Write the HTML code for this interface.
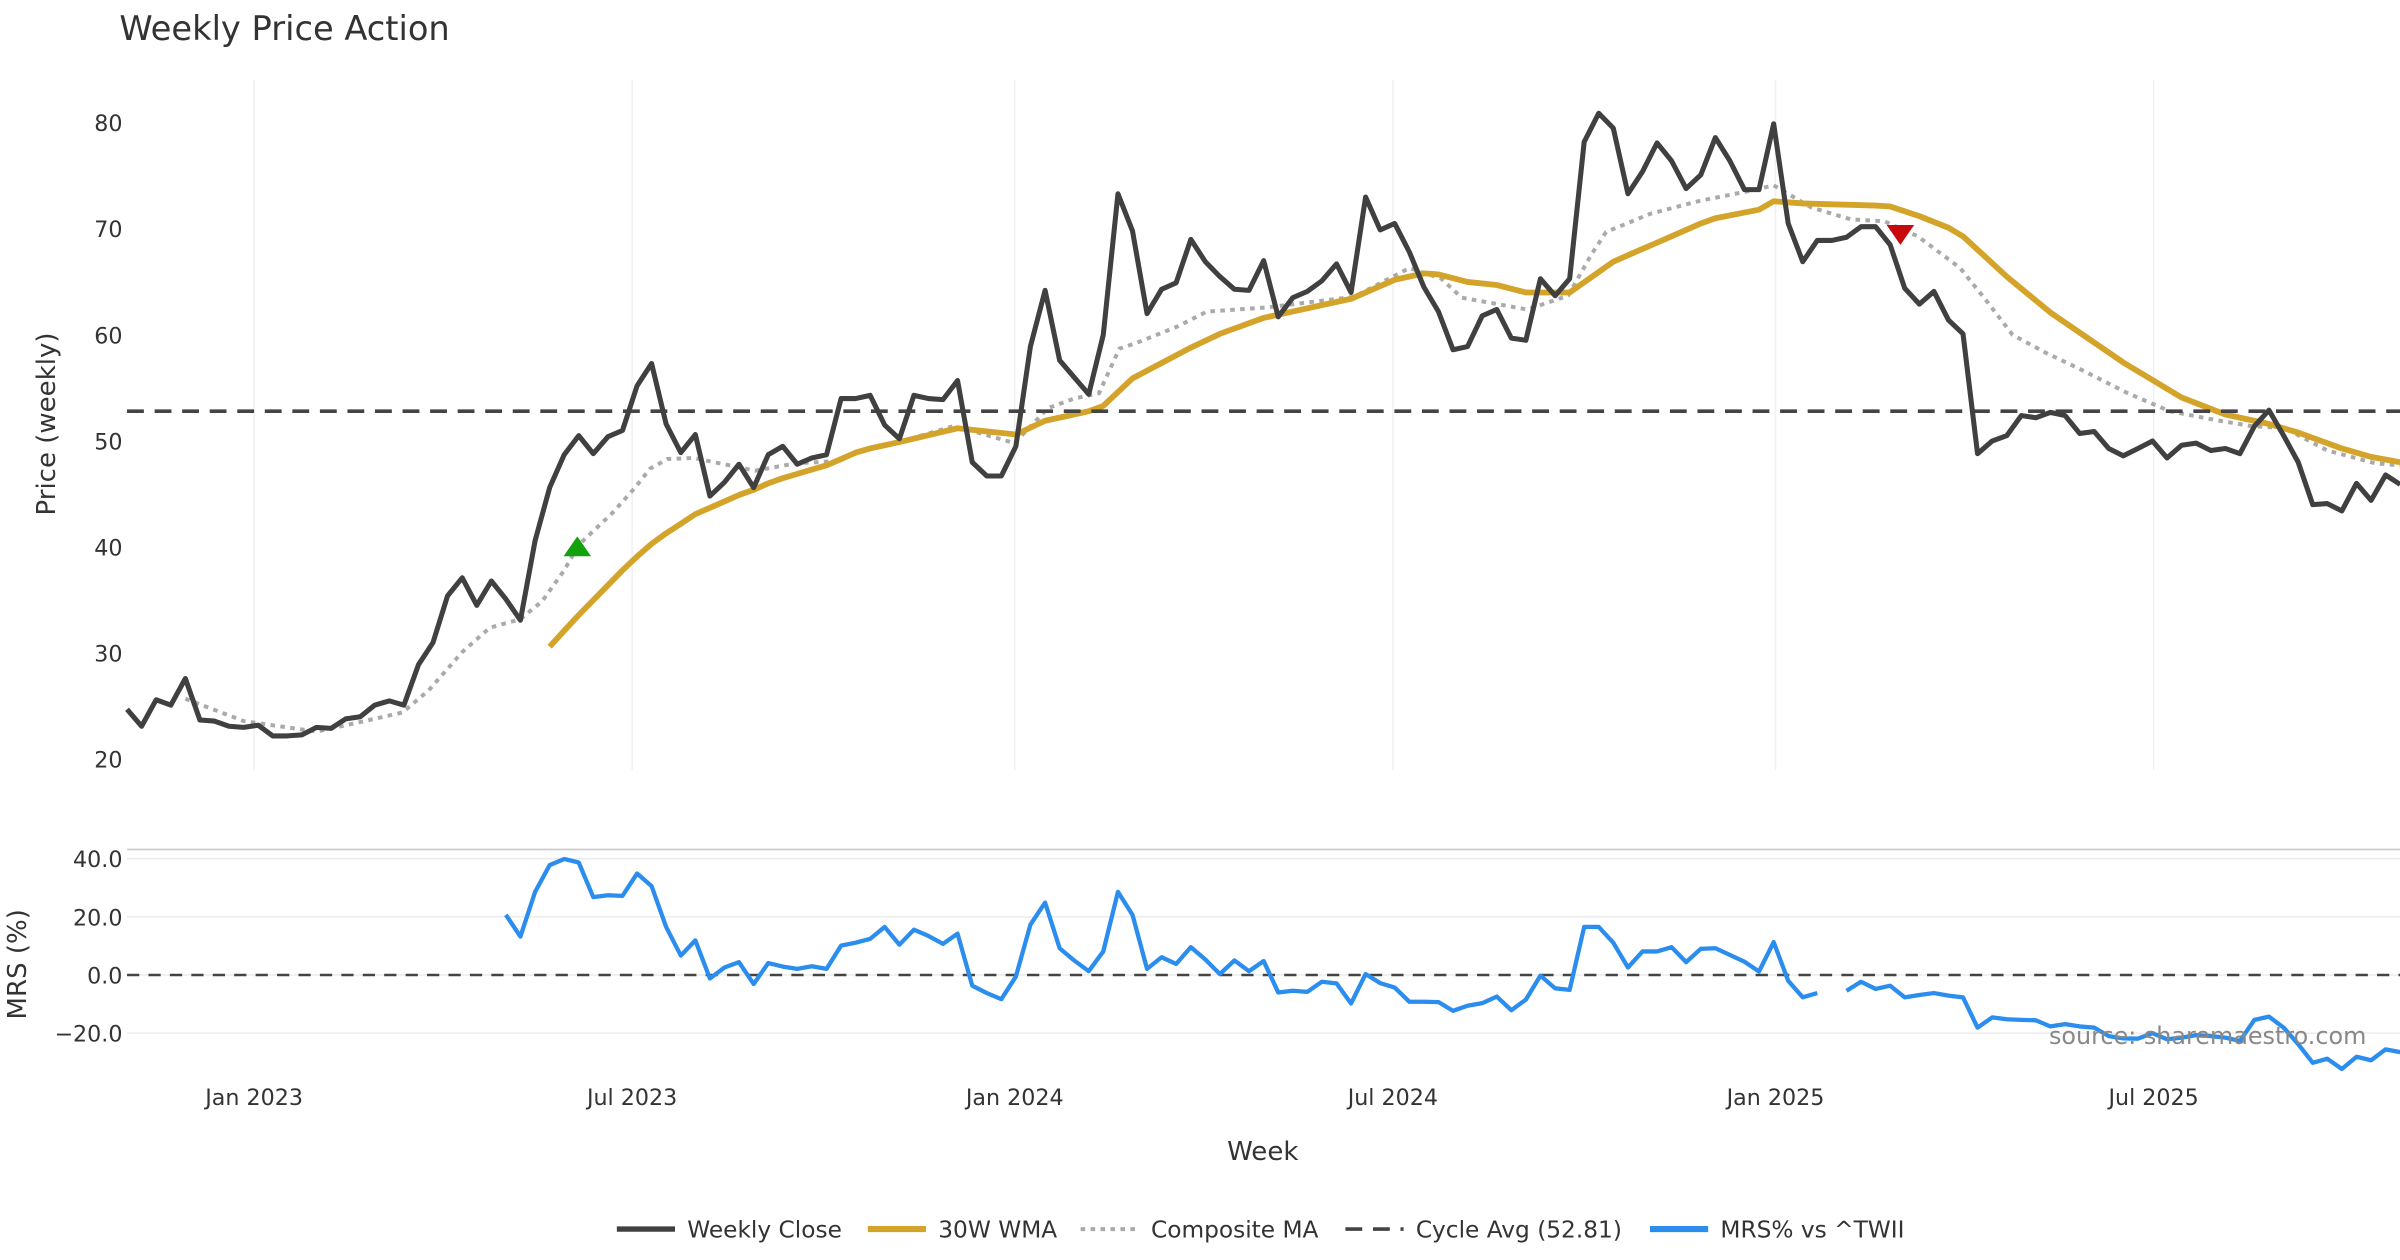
<!DOCTYPE html>
<html><head><meta charset="utf-8"><style>
html,body{margin:0;padding:0;background:#fff;}
svg{display:block;font-family:"DejaVu Sans","Liberation Sans",sans-serif;}
</style></head>
<body>
<svg id="chart" width="2400" height="1260" viewBox="0 0 1568 823.2" xmlns="http://www.w3.org/2000/svg">
<rect x="0" y="0" width="1568" height="823.2" fill="#fff"/>
<text x="78" y="26" font-size="22" fill="#333">Weekly Price Action</text>
<g id="grid"></g>
<g id="marks"></g>
<g id="axes"></g>
<text transform="translate(36,277) rotate(-90)" text-anchor="middle" font-size="17" fill="#333">Price (weekly)</text>
<text transform="translate(17,630) rotate(-90)" text-anchor="middle" font-size="17" fill="#333">MRS (%)</text>
<text x="825" y="758" text-anchor="middle" font-size="17" fill="#333">Week</text>
<text x="1546" y="682" text-anchor="end" font-size="15.6" fill="#888">source: sharemaestro.com</text>
<g id="legend"></g>
</svg>
<script>
const closeVals=[24.7,23.1,25.6,25.1,27.6,23.7,23.6,23.1,23.0,23.2,22.2,22.2,22.3,23.0,22.9,23.8,24.0,25.1,25.5,25.1,28.9,31.0,35.4,37.1,34.5,36.8,35.1,33.1,40.6,45.6,48.7,50.5,48.8,50.4,51.0,55.2,57.3,51.6,48.9,50.6,44.8,46.1,47.8,45.6,48.7,49.5,47.8,48.4,48.7,54.0,54.0,54.3,51.5,50.2,54.3,54.0,53.9,55.7,48.0,46.7,46.7,49.5,58.9,64.2,57.6,56.0,54.4,60.0,73.3,69.8,62.0,64.3,64.9,69.0,66.9,65.5,64.3,64.2,67.0,61.7,63.5,64.1,65.1,66.7,64.0,73.0,69.9,70.5,67.8,64.5,62.2,58.6,58.9,61.8,62.4,59.7,59.5,65.3,63.7,65.3,78.2,80.9,79.5,73.3,75.4,78.1,76.4,73.8,75.1,78.6,76.4,73.7,73.7,79.9,70.5,66.9,68.9,68.9,69.2,70.2,70.2,68.5,64.4,62.9,64.1,61.4,60.1,48.8,50.0,50.5,52.4,52.2,52.7,52.4,50.7,50.9,49.3,48.6,49.3,50.0,48.4,49.6,49.8,49.1,49.3,48.8,51.4,52.9,50.5,48.0,44.0,44.1,43.4,46.0,44.4,46.8,45.9];
const wmaWeeks=[29,30,31,32,33,34,35,36,37,38,39,40,41,42,43,44,45,46,47,48,49,50,51,52,53,57,61,63,66,67,69,73,75,78,79,84,87,89,90,92,94,96,99,102,103.5,106,108,109,112,113,115,120,121,123,125,126,129,132,137,141,144,147,149,152,154,156];
const wmaVals=[30.6,32.1,33.6,35.0,36.4,37.8,39.1,40.3,41.3,42.2,43.1,43.7,44.3,44.9,45.4,46.0,46.5,46.9,47.3,47.7,48.3,48.9,49.3,49.6,49.9,51.2,50.6,51.9,52.8,53.3,55.9,58.8,60.1,61.6,61.9,63.4,65.2,65.8,65.7,65.0,64.7,64.0,64.0,66.9,67.8,69.3,70.5,71.0,71.8,72.6,72.4,72.2,72.1,71.2,70.1,69.3,65.5,62.1,57.4,54.1,52.5,51.6,50.8,49.3,48.5,48.0];
const compWeeks=[4,8,13,15.7,18.9,20.7,23,24.9,27,28.5,30,31,33.3,34.8,35.9,37.1,38.9,43.1,45.9,48.6,51.2,53,56.7,58.6,60.9,63.2,65,66.7,68.1,69.2,72.1,74.1,78.3,84.2,88,90.2,91.6,96.1,98.9,100.5,101.5,104.5,107.8,111.1,113,115.6,118.3,120.6,122.9,125.8,127.5,129.4,131.7,134,137.3,140.2,143.2,145.8,148.1,151,154.3,156];
const compVals=[25.7,23.6,22.6,23.4,24.4,26.5,30.1,32.4,33.2,34.9,37.8,40.2,43.2,45.5,47.4,48.3,48.4,47.2,47.9,48.1,49.4,49.9,51.4,50.7,49.8,53.1,54.0,54.5,58.7,59.2,60.8,62.2,62.6,63.6,66.3,65.3,63.5,62.4,63.7,67.6,69.7,71.4,72.6,73.5,74.1,72.0,70.9,70.7,69.3,66.3,63.4,60.0,58.3,56.8,54.5,52.8,52.0,51.4,51.2,49.1,47.9,47.7];
const mrsVals=[null,null,null,null,null,null,null,null,null,null,null,null,null,null,null,null,null,null,null,null,null,null,null,null,null,null,20.7,13.2,28.6,37.8,39.9,38.7,26.8,27.4,27.2,34.9,30.6,16.5,6.7,11.9,-1.2,2.6,4.4,-3.1,4.1,2.9,2.1,3.0,2.1,10.1,11.1,12.4,16.5,10.4,15.6,13.4,10.7,14.2,-3.7,-6.2,-8.3,-0.5,17.3,24.9,9.2,5.0,1.3,8.1,28.6,20.7,2.1,6.1,3.8,9.6,5.3,0.3,5.0,1.3,4.8,-6.0,-5.4,-5.8,-2.3,-2.9,-9.8,0.3,-2.8,-4.3,-9.2,-9.2,-9.3,-12.3,-10.6,-9.7,-7.4,-12.1,-8.5,-0.2,-4.6,-5.1,16.5,16.5,11.1,2.6,8.1,8.1,9.6,4.4,9.0,9.2,6.9,4.6,1.2,11.3,-2.0,-7.7,-6.2,null,-5.4,-2.3,-4.8,-3.7,-7.7,-6.9,-6.2,-7.1,-7.7,-18.1,-14.6,-15.2,-15.4,-15.6,-17.7,-16.9,-17.7,-18.1,-21.0,-21.8,-21.9,-20.0,-22.1,-21.5,-20.7,-21.0,-21.5,-22.7,-15.4,-14.3,-18.1,-23.8,-30.2,-28.8,-32.3,-28.1,-29.3,-25.6,-26.5];
const cycleAvg=52.81;
const priceTicks=[20,30,40,50,60,70,80];
const mrsTicks=[40,20,0,-20];
const mrsTickLabels=["40.0","20.0","0.0","\u221220.0"];
const dateTickWeeks=[8.72,34.66,60.92,86.87,113.13,139.08];
const dateTickLabels=["Jan 2023","Jul 2023","Jan 2024","Jul 2024","Jan 2025","Jul 2025"];
const buySignal={week:30.9,value:40.0};
const sellSignal={week:121.7,value:69.5};

const NS="http://www.w3.org/2000/svg";
const X=w=>83+w*9.52;
const Y=v=>496-(v-20)*6.93;
const YM=v=>637-v*1.9;
function mk(tag,attrs,parent){const e=document.createElementNS(NS,tag);for(const k in attrs)e.setAttribute(k,attrs[k]);parent.appendChild(e);return e;}
const grid=document.getElementById('grid'),marks=document.getElementById('marks'),axes=document.getElementById('axes'),legend=document.getElementById('legend');

dateTickWeeks.forEach((w,k)=>{
  const g1=mk('line',{x1:X(w),x2:X(w),y1:52,y2:503,stroke:'#f0f0f0','stroke-width':1},grid);
  
  
  const t=mk('text',{x:X(w),y:722,'text-anchor':'middle','font-size':14.5,fill:'#333'},axes);
  t.textContent=dateTickLabels[k];
  
  
});
priceTicks.forEach(v=>{
  const t=mk('text',{x:80,y:Y(v)+5.5,'text-anchor':'end','font-size':14.5,fill:'#333'},axes);
  t.textContent=v;
  
  
});
mrsTicks.forEach((v,k)=>{
  const gl=mk('line',{x1:83,x2:1568,y1:YM(v),y2:YM(v),stroke:'#ececec','stroke-width':1},grid);
  
  
  const t=mk('text',{x:80,y:YM(v)+5.5,'text-anchor':'end','font-size':14.5,fill:'#333'},axes);
  t.textContent=mrsTickLabels[k];
  
  
});
const border=mk('line',{x1:83,x2:1568,y1:555,y2:555,stroke:'#cccccc','stroke-width':1.2},grid);



function pathFrom(ws,vs,yf){let d='',pen=false;for(let k=0;k<vs.length;k++){if(vs[k]===null){pen=false;continue;}d+=(pen?'L':'M')+X(ws[k]).toFixed(1)+' '+yf(vs[k]).toFixed(1);pen=true;}return d;}
const idx=closeVals.map((_,k)=>k);

const comp=mk('path',{d:pathFrom(compWeeks,compVals,Y),fill:'none',stroke:'#aaaaaa','stroke-width':2.6,'stroke-dasharray':'3 3.5'},marks);


const wma=mk('path',{d:pathFrom(wmaWeeks,wmaVals,Y),fill:'none',stroke:'#d4a32a','stroke-width':3.8,'stroke-linejoin':'round'},marks);


const cyc=mk('line',{x1:83,x2:1568,y1:Y(cycleAvg),y2:Y(cycleAvg),stroke:'#444','stroke-width':2.4,'stroke-dasharray':'11 7'},marks);


const cl=mk('path',{d:pathFrom(idx,closeVals,Y),fill:'none',stroke:'#404040','stroke-width':3.3,'stroke-linejoin':'round'},marks);



const bx=X(buySignal.week),by=Y(buySignal.value);
const buy=mk('polygon',{points:`${bx-9},${by+6} ${bx+9},${by+6} ${bx},${by-7}`,fill:'#13a10e'},marks);


const sx=X(sellSignal.week),sy=Y(sellSignal.value);
const sell=mk('polygon',{points:`${sx-9},${sy-6} ${sx+9},${sy-6} ${sx},${sy+7}`,fill:'#c8080d'},marks);



const zero=mk('line',{x1:83,x2:1568,y1:YM(0),y2:YM(0),stroke:'#444','stroke-width':1.6,'stroke-dasharray':'8 6'},marks);


const mrs=mk('path',{d:pathFrom(idx,mrsVals,YM),fill:'none',stroke:'#2b8ded','stroke-width':2.8,'stroke-linejoin':'round'},marks);



const legendItems=[
 {x:403,label:'Weekly Close',stroke:'#404040',w:3.5,dash:''},
 {x:567,label:'30W WMA',stroke:'#d4a32a',w:4,dash:''},
 {x:706,label:'Composite MA',stroke:'#aaaaaa',w:2.6,dash:'3 3.5'},
 {x:879,label:'Cycle Avg (52.81)',stroke:'#444',w:2.4,dash:'11 7'},
 {x:1078,label:'MRS% vs ^TWII',stroke:'#2b8ded',w:4,dash:''}];
legendItems.forEach(it=>{
  const g=mk('g',{},legend);
  
  
  mk('line',{x1:it.x,x2:it.x+38,y1:803,y2:803,stroke:it.stroke,'stroke-width':it.w,'stroke-dasharray':it.dash},g);
  const t=mk('text',{x:it.x+46,y:808.5,'font-size':15.2,fill:'#333'},g);
  t.textContent=it.label;
});
</script>
</body></html>
